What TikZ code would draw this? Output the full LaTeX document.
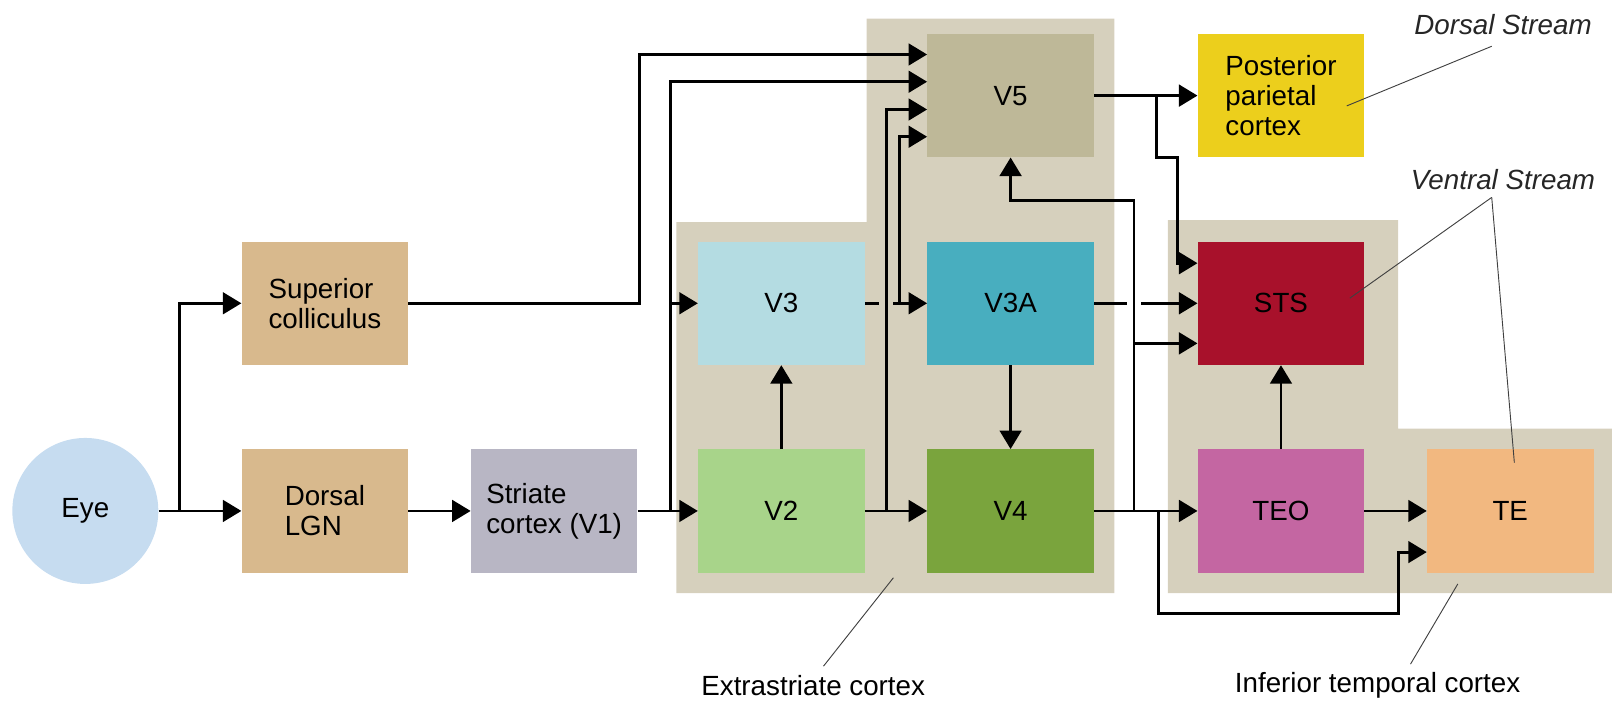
\documentclass[tikz,border=0pt]{standalone}
\usepackage{fontspec}
\setmainfont{Liberation Sans}
\usetikzlibrary{arrows.meta,calc}
\definecolor{panelc}{HTML}{D6D0BD}
\definecolor{eyec}{HTML}{C6DCF0}
\definecolor{tanc}{HTML}{D8B98D}
\definecolor{v1c}{HTML}{B8B6C4}
\definecolor{v2c}{HTML}{A8D48A}
\definecolor{v3c}{HTML}{B4DCE2}
\definecolor{v3ac}{HTML}{48AEBF}
\definecolor{v4c}{HTML}{7AA43D}
\definecolor{v5c}{HTML}{BEB898}
\definecolor{ppcc}{HTML}{ECCF1C}
\definecolor{stsc}{HTML}{A8112B}
\definecolor{teoc}{HTML}{C466A2}
\definecolor{tec}{HTML}{F2B880}
\begin{document}
\begin{tikzpicture}[x=1pt,y=-1pt,
  box/.style={minimum width=162pt,minimum height=120pt,inner sep=0pt,
    font=\fontsize{27}{29}\selectfont,align=center},
  lbox/.style={box,align=left},
  arr/.style={line width=2.8pt,-{Triangle[length=18pt,width=21pt]}},
  ln/.style={line width=2.8pt},
  note/.style={line width=0.9pt,black!75},
  lab/.style={font=\fontsize{27}{29}\selectfont,inner sep=0pt},
  ilab/.style={lab,font=\fontsize{27}{29}\selectfont\itshape,text=black!85}
]
\useasboundingbox (0,0) rectangle (1568,685);
% panels
\fill[panelc] (658,216) -- (843,216) -- (843,18) -- (1084,18) -- (1084,577) -- (658,577) -- cycle;
\fill[panelc] (1136,214) -- (1360,214) -- (1360,417) -- (1568,417) -- (1568,577) -- (1136,577) -- cycle;
% nodes
\node[circle,fill=eyec,minimum size=142pt,inner sep=0pt,font=\fontsize{27}{29}\selectfont] (eye) at (83,497) {Eye};
\node[lbox,fill=tanc] (sc) at (316,295) {Superior\\colliculus};
\node[lbox,fill=tanc] (lgn) at (316,497) {Dorsal\\LGN};
\node[lbox,fill=v1c] (v1) at (539,497) {Striate\\cortex (V1)};
\node[box,fill=v2c] (v2) at (760,497) {V2};
\node[box,fill=v3c] (v3) at (760,295) {V3};
\node[box,fill=v3ac] (v3a) at (983,295) {V3A};
\node[box,fill=v4c] (v4) at (983,497) {V4};
\node[box,fill=v5c] (v5) at (983,93) {V5};
\node[lbox,fill=ppcc] (ppc) at (1246,93) {Posterior\\parietal\\cortex};
\node[box,fill=stsc] (sts) at (1246,295) {STS};
\node[box,fill=teoc] (teo) at (1246,497) {TEO};
\node[box,fill=tec] (te) at (1469,497) {TE};
% labels
\node[ilab] (ds) at (1462,24) {Dorsal Stream};
\node[ilab] (vs) at (1462,175) {Ventral Stream};
\node[lab] (ex) at (791,667) {Extrastriate cortex};
\node[lab] (it) at (1340,667) {Inferior temporal cortex};
% coordinates
\coordinate (e1) at (175,497);
\coordinate (s1) at (622,295);
\coordinate (j1) at (652,497);
\coordinate (j2) at (862,497);
\coordinate (g1) at (855,295);
\coordinate (g2) at (869,295);
\coordinate (j3) at (875,295);
\coordinate (j4) at (1103,497);
\coordinate (k4) at (1103,195);
\coordinate (g3) at (1096,295);
\coordinate (g4) at (1110,295);
\coordinate (j5) at (1125,93);
\coordinate (k5) at (1125,153);
\coordinate (m5) at (1145,153);
\coordinate (j6) at (1127,497);
\coordinate (k6) at (1127,597);
\coordinate (m6) at (1360,597);
% connectors
\draw[arr] (eye) -- (lgn);
\draw[arr] (e1) |- (sc.west);
\draw[arr] (lgn) -- (v1);
\draw[arr] (v1) -- (v2);
\draw[arr] (sc.east) -- (s1) |- ([yshift=40pt]v5.west);
\draw[arr] (j1) |- ([yshift=13.5pt]v5.west);
\draw[arr] (j1) |- (v3.west);
\draw[arr] (v2) -- (v3);
\draw[arr] (v2) -- (v4);
\draw[arr] (j2) |- ([yshift=-13.5pt]v5.west);
\draw[ln] (v3.east) -- (g1);
\draw[arr] (g2) -- (v3a.west);
\draw[arr] (j3) |- ([yshift=-40pt]v5.west);
\draw[arr] (v3a) -- (v4);
\draw[arr] (v4) -- (teo);
\draw[arr] (j4) -- (k4) -| (v5.south);
\draw[arr] (j4) |- ([yshift=-39pt]sts.west);
\draw[ln] (v3a.east) -- (g3);
\draw[arr] (g4) -- (sts.west);
\draw[arr] (v5) -- (ppc);
\draw[arr] (j5) -- (k5) -- (m5) |- ([yshift=39pt]sts.west);
\draw[arr] (teo) -- (sts);
\draw[arr] (teo) -- (te);
\draw[arr] (j6) -- (k6) -- (m6) |- ([yshift=-40pt]te.west);
% annotation lines
\coordinate (dsp) at (1451,45);
\coordinate (vsp) at (1451,192);
\draw[note] (dsp) -- (1310,103);
\draw[note] (vsp) -- (1313,290);
\draw[note] (vsp) -- (1473,450);
\draw[note] (801,648) -- (869,562);
\draw[note] (1372,646) -- (1418,568);
\end{tikzpicture}
\end{document}
